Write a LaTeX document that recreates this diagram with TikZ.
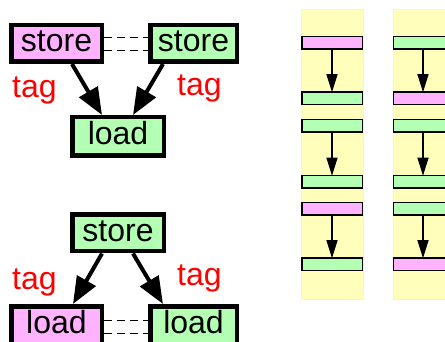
\documentclass[tikz,border=0pt]{standalone}
\usepackage{fontspec}
\setmainfont{Liberation Sans}
\usetikzlibrary{arrows.meta,calc}
\definecolor{pinkfill}{HTML}{FFB3FF}
\definecolor{greenfill}{HTML}{B3FFB3}
\definecolor{lane}{HTML}{FFFFBB}
\definecolor{laneedge}{HTML}{FFFF88}

\begin{document}
\begin{tikzpicture}[x=1pt,y=-1pt,
  op/.style={draw,line width=4.5pt,inner sep=0pt,minimum height=36.5pt,
    font=\fontsize{32}{32}\selectfont,text height=23pt,text depth=6.5pt},
  pinkop/.style={op,fill=pinkfill},
  greenop/.style={op,fill=greenfill},
  tag/.style={text=red,inner sep=0pt,anchor=base west,font=\fontsize{32}{32}\selectfont},
  bigarrow/.style={line width=4pt,-{Triangle[length=27pt,width=21pt]}},
  link/.style={line width=1pt,dash pattern=on 8pt off 5pt},
  bar/.style={draw,line width=1.5pt,inner sep=0pt,outer sep=0pt,
    minimum width=60.5pt,minimum height=12.5pt},
  pinkbar/.style={bar,fill=pinkfill},
  greenbar/.style={bar,fill=greenfill},
  flow/.style={line width=1.2pt,-{Triangle[length=18pt,width=11pt]}}
]
\useasboundingbox (0,0) rectangle (445,342);

% ---- two stores feeding one load ----
\node[pinkop,minimum width=90.5pt] (s1) at (56.5,43.5) {store};
\node[greenop,minimum width=86.5pt] (s2) at (193.5,43.5) {store};
\node[greenop,minimum width=91.5pt,minimum height=38.5pt] (l1) at (118,136.5) {load};
\draw[link] ($(s1.east)+(0,-5.5)$) -- ($(s2.west)+(0,-5.5)$);
\draw[link] ($(s1.east)+(0,7.5)$) -- ($(s2.west)+(0,7.5)$);
\draw[bigarrow] ($(s1.south)+(15.5,0)$) -- ($(l1.north)+(-16,0)$);
\draw[bigarrow] ($(s2.south)+(-30.5,0)$) -- ($(l1.north)+(15,0)$);
\node[tag] (t1) at (12,98) {tag};
\node[tag] (t2) at (177,96) {tag};

% ---- one store feeding two loads ----
\node[greenop,minimum width=91.5pt] (s3) at (118,233) {store};
\node[pinkop,minimum width=90.5pt,minimum height=38.5pt] (l2) at (56.5,325.5) {load};
\node[greenop,minimum width=86.5pt,minimum height=38.5pt] (l3) at (193.5,325.5) {load};
\draw[link] ($(l2.east)+(0,-5.5)$) -- ($(l3.west)+(0,-5.5)$);
\draw[link] ($(l2.east)+(0,7.5)$) -- ($(l3.west)+(0,7.5)$);
\draw[bigarrow] ($(s3.south)+(-16,0)$) -- ($(l2.north)+(16.5,0)$);
\draw[bigarrow] ($(s3.south)+(15,0)$) -- ($(l3.north)+(-30.5,0)$);
\node[tag] (t3) at (12,289) {tag};
\node[tag] (t4) at (177,286) {tag};

% ---- lanes ----
\filldraw[fill=lane,draw=laneedge,line width=0.8pt] (301,9) rectangle (363,299);
\filldraw[fill=lane,draw=laneedge,line width=0.8pt] (393,9) rectangle (470,299);

% first lane
\node[pinkbar]  (a1) at (332,43) {};
\node[greenbar] (a2) at (332,98.5) {};
\node[greenbar] (a3) at (332,126) {};
\node[greenbar] (a4) at (332,182) {};
\node[pinkbar]  (a5) at (332,209) {};
\node[greenbar] (a6) at (332,264.5) {};
\draw[flow] (a1.south) -- (a2.north);
\draw[flow] (a3.south) -- (a4.north);
\draw[flow] (a5.south) -- (a6.north);

% second lane
\node[greenbar] (b1) at (423.75,43) {};
\node[pinkbar]  (b2) at (423.75,98.5) {};
\node[greenbar] (b3) at (423.75,126) {};
\node[greenbar] (b4) at (423.75,182) {};
\node[greenbar] (b5) at (423.75,209) {};
\node[pinkbar]  (b6) at (423.75,264.5) {};
\draw[flow] ([xshift=-0.75pt]b1.south) -- ([xshift=-0.75pt]b2.north);
\draw[flow] ([xshift=-0.75pt]b3.south) -- ([xshift=-0.75pt]b4.north);
\draw[flow] ([xshift=-0.75pt]b5.south) -- ([xshift=-0.75pt]b6.north);
\end{tikzpicture}
\end{document}
